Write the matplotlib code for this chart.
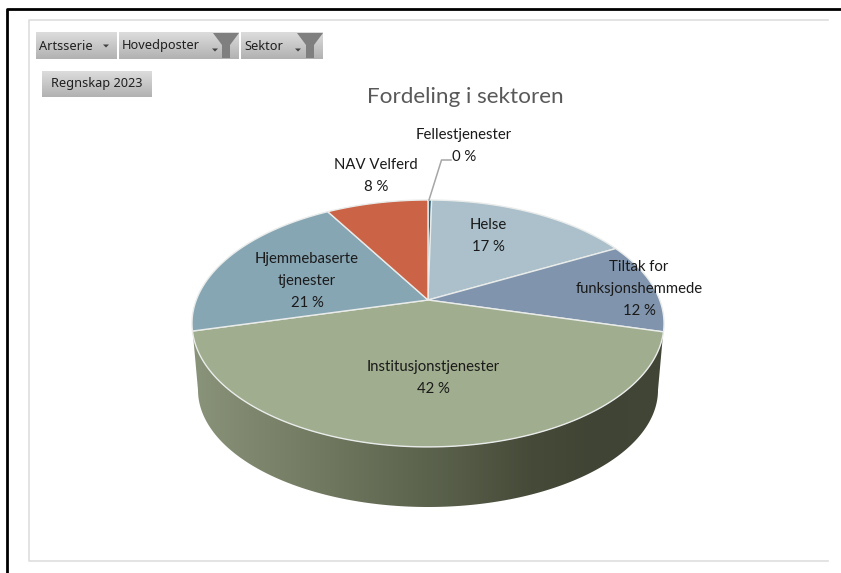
import numpy as np
import matplotlib
matplotlib.use("Agg")
import matplotlib.pyplot as plt
from matplotlib.colors import LinearSegmentedColormap
from matplotlib.patches import Polygon

# Data
categories = ["Fellestjenester", "Helse", "Tiltak for\nfunksjonshemmede",
              "Institusjonstjenester", "Hjemmebaserte\ntjenester", "NAV Velferd"]
values = [0.3, 16.9, 11.9, 41.9, 20.6, 8.4]
labels_pct = ["0 %", "17 %", "12 %", "42 %", "21 %", "8 %"]
colors = ["#2f5f76", "#abc0cb", "#8095ad", "#a0ad8e", "#87a6b4", "#cb6346"]
label_xy = [(464, 146), (488, 236), (639, 289), (433, 378), (307, 281), (376, 176)]
title = "Fordeling i sektoren"
buttons = ["Artsserie", "Hovedposter", "Sektor"]
badge = "Regnskap 2023"

W, H = 841, 573
fig = plt.figure(figsize=(W / 100, H / 100), dpi=100, facecolor="white")
ax = fig.add_axes([0, 0, 1, 1])
ax.set_xlim(0, W)
ax.set_ylim(H, 0)
ax.axis("off")

LABEL_FONT = "Lato"

# Frames
ax.plot([7.5, 7.5, W], [H, 9, 9], color="black", lw=2.0, solid_capstyle="butt", zorder=1)
ax.plot([828, 29, 29, 828], [20, 20, 561, 561], color="#dedede", lw=1.2, zorder=1)

# Perspective mapping of the pie disc
CX, CY, K, A, B = 428.0, 300.0, 0.19, 119.0, 231.7


def project(u, v):
    w = 1 + K * v
    return CX + B * u / w, CY - A * v / w


# Side wall with horizontal gradient
t = np.linspace(0, np.pi, 300)
top_x, top_y = 428 + 236 * np.cos(t), 323.5 + 123.5 * np.sin(t)
bot_x, bot_y = 428 + 230 * np.cos(t), 390 + 117 * np.sin(t)
wall = np.column_stack([np.r_[top_x, bot_x[::-1]], np.r_[top_y, bot_y[::-1]]])
cmap = LinearSegmentedColormap.from_list(
    "wall", [(0, "#8a947b"), (0.22, "#767e65"), (0.5, "#5c634d"),
             (0.72, "#464b39"), (0.85, "#3f4434"), (1, "#414636")])
im = ax.imshow(np.linspace(0, 1, 256)[None, :], extent=[191, 664, 510, 320],
               cmap=cmap, aspect="auto", zorder=2)
patch = Polygon(wall, closed=True, fc="none", ec="none", transform=ax.transData)
ax.add_patch(patch)
im.set_clip_path(patch)
ax.set_xlim(0, W)
ax.set_ylim(H, 0)

# Slices
total = sum(values)
start = 0.0
for val, col in zip(values, colors):
    a0, a1 = start, start + val / total * 2 * np.pi
    th = np.linspace(a0, a1, 120)
    x, y = project(np.sin(th), np.cos(th))
    pts = np.column_stack([np.r_[CX, x], np.r_[CY, y]])
    ax.add_patch(Polygon(pts, closed=True, fc=col, ec="#e9ecea", lw=1.0,
                         joinstyle="round", zorder=3))
    start = a1

# Leader line for the smallest slice
ax.plot([429, 441.5, 451], [200, 160, 160], color="#a6a6a6", lw=1.1, zorder=4)

# Data labels
for cat, pct, (lx, ly) in zip(categories, labels_pct, label_xy):
    ax.text(lx, ly, f"{cat}\n{pct}", ha="center", va="center", fontsize=10.7,
            family=LABEL_FONT, color="#1a1a1a", linespacing=1.72, zorder=5)

ax.text(465, 97, title, ha="center", va="center", fontsize=16.2,
        family=LABEL_FONT, color="#595959", zorder=5)

# Field buttons
grad = LinearSegmentedColormap.from_list("btn", ["#dcdcdc", "#b2b2b2"])


def button(x0, x1, y0, y1):
    ax.imshow(np.linspace(0, 1, 32)[:, None], extent=[x0, x1, y1, y0], cmap=grad,
              aspect="auto", zorder=2)
    ax.set_xlim(0, W)
    ax.set_ylim(H, 0)


def funnel(x):
    ax.add_patch(Polygon([(x - 13, 33), (x + 13, 33), (x + 4, 45), (x + 4, 58),
                          (x - 4, 58), (x - 4, 45)], closed=True, fc="#7f7f7f",
                         ec="none", zorder=3))


def arrow(x, y):
    ax.add_patch(Polygon([(x - 3, y - 1.5), (x + 3, y - 1.5), (x, y + 1.5)], closed=True,
                         fc="#404040", ec="none", zorder=4))


boxes = [(36, 117), (119, 239), (241, 323)]
text_x = [39, 122, 244]
for (x0, x1), name, tx in zip(boxes, buttons, text_x):
    button(x0, x1, 32, 59)
    ax.text(tx, 46, name, ha="left", va="center", fontsize=9.2,
            family="Noto Sans", color="#1f1f1f", zorder=5)
arrow(106, 46)
funnel(226)
arrow(215, 50)
funnel(310)
arrow(298, 50)

button(42, 152, 71, 97)
ax.text(97, 84, badge, ha="center", va="center", fontsize=9.2,
        family="Noto Sans", color="#1f1f1f", zorder=5)

fig.savefig("out.png", dpi=100, facecolor="white")
